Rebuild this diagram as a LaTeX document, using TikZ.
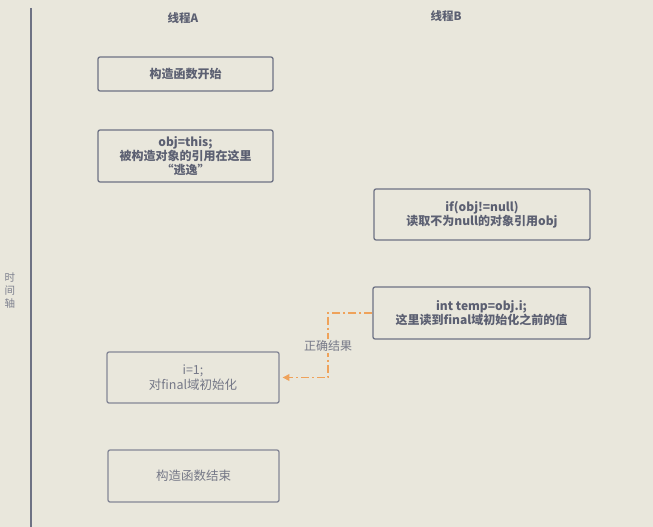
\documentclass[tikz,border=0pt]{standalone}
\usepackage{fontspec}
\setmainfont{Noto Sans CJK SC}
\usepackage{tikz}
\usetikzlibrary{arrows.meta,positioning,calc}
\definecolor{paper}{HTML}{E9E7DC}
\definecolor{edge}{HTML}{6E7284}
\definecolor{ink}{HTML}{5C6072}
\definecolor{hint}{HTML}{EFA25A}
\tikzset{box/.style={draw=edge,line width=1.3pt,rounded corners=2pt,align=center,text=ink,font=\fontsize{12}{14}\selectfont\bfseries},
  lightbox/.style={box,draw=edge!85,font=\fontsize{12.5}{15}\selectfont,text=ink!85},
  title/.style={text=ink,font=\fontsize{11.5}{13}\selectfont\bfseries},
  arr/.style={-{Triangle[length=2.4mm,width=2.4mm]},hint,line width=1.1pt,dash pattern=on 8pt off 3pt on 2pt off 3pt}}

\begin{document}
\begin{tikzpicture}[x=1pt,y=-1pt]
\fill[paper] (0,0) rectangle (653,527);
\useasboundingbox (0,0) rectangle (653,527);
\coordinate (axtop) at (31,8); \coordinate (axbot) at (31,527);
\draw[edge,line width=1.3pt] (axtop)--(axbot);
\node[text=ink!80,font=\fontsize{10.5}{13}\selectfont,align=center] (axis) at (10,291){时\\间\\轴};
\node[title] (ta) at (183,18){线程A};
\node[title] (tb) at (446,16){线程B};
\node[box,minimum width=175pt,minimum height=34pt] (start) at (185.5,74){构造函数开始};
\node[box,minimum width=175pt,minimum height=52pt] (escape) at (185.5,156){obj=this;\\被构造对象的引用在这里\\“逃逸”};
\node[box,minimum width=216pt,minimum height=51pt] (check) at (482,214.5){if(obj!=null)\\读取不为null的对象引用obj};
\node[box,minimum width=217pt,minimum height=52pt] (read) at (481.5,313){int temp=obj.i;\\这里读到final域初始化之前的值};
\node[lightbox,minimum width=172pt,minimum height=51pt] (init) at (193,377.5){i=1;\\对final域初始化};
\node[lightbox,minimum width=171pt,minimum height=52pt] (finish) at (193.5,476){构造函数结束};
\coordinate (turn) at (328,377.5);
\draw[arr,shorten >=3pt] (read.west) -| (turn) -- (init.east);
\node[fill=paper,text=ink!85,font=\fontsize{12}{14}\selectfont,inner sep=1pt] (ok) at (328,346){正确结果};
\end{tikzpicture}
\end{document}
